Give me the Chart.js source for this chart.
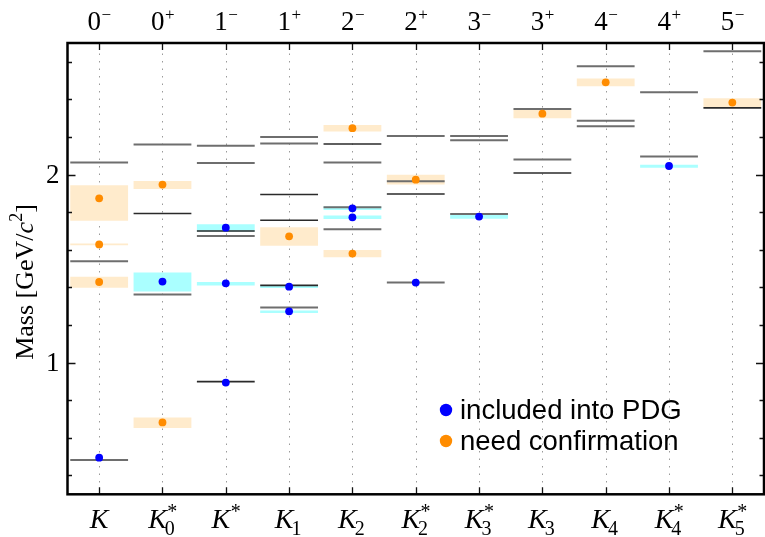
<!DOCTYPE html>
<html>
<head>
<meta charset="utf-8">
<script src="https://cdn.jsdelivr.net/npm/chart.js@4.4.1/dist/chart.umd.min.js"></script>
<style>
  html, body { margin: 0; padding: 0; background: #ffffff; overflow: hidden; }
  #wrap { width: 765px; height: 537px; overflow: hidden; position: relative; }
  #c { position: absolute; left: 0; top: 0; width: 768px; height: 537px; }
</style>
</head>
<body>
<div id="wrap"><canvas id="c" width="768" height="537"></canvas></div>
<script>
// ---------------- data ----------------
const categories = ['K', 'K0*', 'K*', 'K1', 'K2', 'K2*', 'K3*', 'K3', 'K4', 'K4*', 'K5*'];
const jpcLabels  = ['0-', '0+', '1-', '1+', '2-', '2+', '3-', '3+', '4-', '4+', '5-'];

// PDG established states (blue) — mass in GeV/c^2, per category
const pdgMass = [
  [0.495], [1.431], [0.894, 1.422, 1.718], [1.273, 1.404], [1.773, 1.821],
  [1.426], [1.777], [], [], [2.046], []
];
// PDG uncertainty bands (cyan) [low, high]
const pdgBand = [
  [], [[1.379, 1.479]], [[1.411, 1.429], [1.698, 1.736]], [[1.264, 1.278], [1.397, 1.411]],
  [[1.764, 1.782], [1.812, 1.831]], [], [[1.766, 1.786]], [], [], [[2.037, 2.053]], []
];
// states that need confirmation (orange)
const needMass = [
  [1.429, 1.629, 1.874], [0.682, 1.947], [], [1.672], [1.580, 2.247],
  [1.973], [], [2.324], [2.491], [], [2.383]
];
const needBand = [
  [[1.399, 1.457], [1.624, 1.634], [1.755, 1.943]], [[0.653, 0.709], [1.924, 1.966]], [],
  [[1.622, 1.720]], [[1.560, 1.599], [2.229, 2.264]], [[1.947, 2.000]], [],
  [[2.300, 2.349]], [[2.470, 2.511]], [], [[2.355, 2.406]]
];
// model predictions (horizontal lines), grey and dark
const modelMass = [
  [0.482, 1.539, 2.065], [1.362, 2.160], [1.674, 2.062, 2.154], [1.294, 2.165, 2.200],
  [1.709, 1.826, 2.065], [1.426, 1.965, 2.206], [1.791, 2.183, 2.206], [2.081, 2.349],
  [2.257, 2.287, 2.576], [2.097, 2.438], [2.656]
];
const modelMassDark = [
  [], [1.793], [0.899, 1.700], [1.411, 1.757, 1.894], [2.163], [1.897], [], [2.009],
  [], [], [2.355]
];

const yTicks = [0.4, 0.6, 0.8, 1.0, 1.2, 1.4, 1.6, 1.8, 2.0, 2.2, 2.4, 2.6];
const yTickLabels = { 1: '1', 2: '2' };
const legendLabels = ['included into PDG', 'need confirmation'];
const legendColors = ['#0000ff', '#ff8c00'];

// ---------------- helpers ----------------
const BAR_FRACTION = 0.913;
const SERIF = '"Liberation Serif", "DejaVu Serif", "Times New Roman", serif';
const SANS = '"Liberation Sans", Arial, Helvetica, sans-serif';

function pointsFrom(list) {
  const out = [];
  list.forEach((vals, i) => vals.forEach(v => out.push({ x: categories[i], y: v })));
  return out;
}
function bandsFrom(list) {
  const out = [];
  list.forEach((vals, i) => vals.forEach(b => out.push({ x: categories[i], y: [b[0], b[1]] })));
  return out;
}
const halfBar = (c) => c.chart.scales.x.width / categories.length * BAR_FRACTION / 2;

// ---------------- decorations plugin ----------------
const decor = {
  id: 'decor',
  beforeDatasetsDraw(chart) {
    const { ctx, chartArea: a, scales: { x } } = chart;
    ctx.save();
    ctx.strokeStyle = '#9a9a9a';
    ctx.lineWidth = 1;
    ctx.setLineDash([1.5, 6]);
    categories.forEach((c, i) => {
      const px = Math.round(x.getPixelForValue(i)) + 0.5;
      ctx.beginPath();
      ctx.moveTo(px, a.top + 3);
      ctx.lineTo(px, a.bottom);
      ctx.stroke();
    });
    ctx.restore();
  },
  afterDatasetsDraw(chart) {
    const { ctx, chartArea: a, scales: { x, y } } = chart;
    ctx.save();
    // inward ticks
    ctx.strokeStyle = '#111';
    ctx.lineWidth = 1.3;
    yTicks.forEach(v => {
      const py = Math.round(y.getPixelForValue(v)) + 0.5;
      const major = Math.abs(v - Math.round(v)) < 1e-6;
      const len = major ? 8 : 4.5;
      ctx.beginPath();
      ctx.moveTo(a.left, py); ctx.lineTo(a.left + len, py);
      ctx.moveTo(a.right, py); ctx.lineTo(a.right - len, py);
      ctx.stroke();
    });
    categories.forEach((c, i) => {
      const px = Math.round(x.getPixelForValue(i)) + 0.5;
      ctx.beginPath();
      ctx.moveTo(px, a.top); ctx.lineTo(px, a.top + 7);
      ctx.moveTo(px, a.bottom); ctx.lineTo(px, a.bottom - 7);
      ctx.stroke();
    });
    // frame
    ctx.strokeStyle = '#000';
    ctx.lineWidth = 2.5;
    ctx.strokeRect(a.left, a.top, a.right - a.left, a.bottom - a.top);

    // y tick labels
    ctx.fillStyle = '#000';
    ctx.font = '27px ' + SERIF;
    ctx.textAlign = 'right';
    ctx.textBaseline = 'middle';
    Object.keys(yTickLabels).forEach(k => {
      ctx.fillText(yTickLabels[k], a.left - 8, y.getPixelForValue(Number(k)) + 1);
    });

    // y axis title (rotated)
    ctx.save();
    ctx.translate(33, 282);
    ctx.rotate(-Math.PI / 2);
    ctx.textAlign = 'left';
    ctx.textBaseline = 'alphabetic';
    const runs = [
      { t: 'Mass [GeV/', f: '26px ' + SERIF, dy: 0 },
      { t: 'c', f: 'italic 26px ' + SERIF, dy: 0 },
      { t: '2', f: '18px ' + SERIF, dy: -11 },
      { t: ']', f: '26px ' + SERIF, dy: 0 }
    ];
    let tw = 0;
    runs.forEach(r => { ctx.font = r.f; r.w = ctx.measureText(r.t).width; tw += r.w; });
    let cx = -tw / 2;
    runs.forEach(r => { ctx.font = r.f; ctx.fillText(r.t, cx, r.dy); cx += r.w; });
    ctx.restore();

    // top labels J^P
    ctx.textAlign = 'left';
    ctx.textBaseline = 'alphabetic';
    jpcLabels.forEach((lab, i) => {
      const px = x.getPixelForValue(i);
      const j = lab.slice(0, -1);
      const p = lab.slice(-1) === '-' ? '\u2212' : '+';
      ctx.font = '27px ' + SERIF; const wj = ctx.measureText(j).width;
      ctx.font = '17px ' + SERIF; const wp = ctx.measureText(p).width;
      const x0 = px - (wj + wp) / 2;
      ctx.font = '27px ' + SERIF; ctx.fillText(j, x0, 30);
      ctx.font = '17px ' + SERIF; ctx.fillText(p, x0 + wj + 0.5, 20);
    });

    // bottom labels K with sub/superscripts
    categories.forEach((lab, i) => {
      const px = x.getPixelForValue(i);
      const main = lab.charAt(0);
      const sub = (lab.match(/\d/) || [''])[0];
      const sup = lab.indexOf('*') >= 0 ? '*' : '';
      ctx.font = 'italic 28px ' + SERIF; const wm = ctx.measureText(main).width;
      ctx.font = '20px ' + SERIF;
      const ws = sup ? ctx.measureText(sup).width : 0;
      const wb = sub ? ctx.measureText(sub).width : 0;
      const total = wm + Math.max(ws, wb);
      const x0 = px - total / 2;
      const base = 528;
      ctx.font = 'italic 28px ' + SERIF; ctx.fillText(main, x0, base);
      ctx.font = '20px ' + SERIF;
      if (sup) ctx.fillText(sup, x0 + wm + 0.5, base - 10);
      if (sub) ctx.fillText(sub, x0 + wm - 2, base + 7);
    });

    // legend
    legendLabels.forEach((t, k) => {
      const ly = 410 + k * 31;
      ctx.beginPath();
      ctx.fillStyle = legendColors[k];
      ctx.arc(446, ly, 6.2, 0, Math.PI * 2);
      ctx.fill();
      ctx.fillStyle = '#000';
      ctx.font = '27.5px ' + SANS;
      ctx.textAlign = 'left';
      ctx.textBaseline = 'middle';
      ctx.fillText(t, 460, ly + 1);
    });
    ctx.restore();
  }
};

// ---------------- chart ----------------
const barCommon = {
  type: 'bar', grouped: false, barPercentage: 1, categoryPercentage: BAR_FRACTION,
  borderWidth: 0, order: 4
};
new Chart(document.getElementById('c'), {
  type: 'bar',
  data: {
    labels: categories,
    datasets: [
      Object.assign({ label: 'PDG band', data: bandsFrom(pdgBand), backgroundColor: '#aaffff' }, barCommon),
      Object.assign({ label: 'need band', data: bandsFrom(needBand), backgroundColor: '#ffebcc' }, barCommon),
      {
        type: 'line', label: 'model', data: pointsFrom(modelMass), showLine: false, order: 3,
        pointStyle: 'line', pointRadius: halfBar, pointHoverRadius: halfBar,
        pointBorderColor: '#6e6e6e', pointBorderWidth: 2
      },
      {
        type: 'line', label: 'model dark', data: pointsFrom(modelMassDark), showLine: false, order: 2,
        pointStyle: 'line', pointRadius: halfBar, pointHoverRadius: halfBar,
        pointBorderColor: '#2a2a2a', pointBorderWidth: 1.6
      },
      {
        type: 'line', label: legendLabels[0], data: pointsFrom(pdgMass), showLine: false, order: 1,
        pointStyle: 'circle', pointRadius: 3.9, pointBackgroundColor: legendColors[0], pointBorderWidth: 0
      },
      {
        type: 'line', label: legendLabels[1], data: pointsFrom(needMass), showLine: false, order: 1,
        pointStyle: 'circle', pointRadius: 3.9, pointBackgroundColor: legendColors[1], pointBorderWidth: 0
      }
    ]
  },
  options: {
    responsive: false,
    animation: false,
    events: [],
    layout: { padding: { left: 67.5, right: 2, top: 43, bottom: 42.7 } },
    scales: {
      x: { type: 'category', display: false, offset: true },
      y: { type: 'linear', display: false, min: 0.3, max: 2.7 }
    },
    plugins: { legend: { display: false }, tooltip: { enabled: false } }
  },
  plugins: [decor]
});
</script>
</body>
</html>
